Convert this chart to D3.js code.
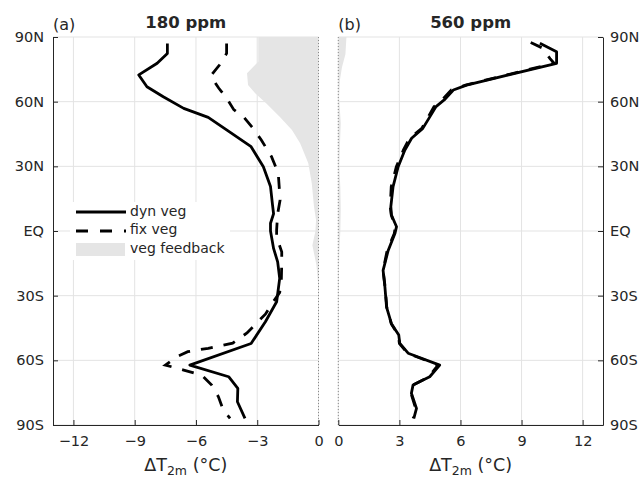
<!DOCTYPE html>
<html><head><meta charset="utf-8">
<script src="https://cdn.jsdelivr.net/npm/d3@7"></script>
<style>body{margin:0;background:#fff} text{font-family:"DejaVu Sans",sans-serif;fill:#262626}</style>
</head><body><svg id="c" width="640" height="478"></svg>
<script>
const latTicks = [90, 60, 30, 0, -30, -60, -90];
const latTickLabels = ["90N", "60N", "30N", "EQ", "30S", "60S", "90S"];
const xTicksA = [-12, -9, -6, -3, 0];
const xTicksB = [0, 3, 6, 9, 12];
const titles = ["180 ppm", "560 ppm"];
const panelLabels = ["(a)", "(b)"];
const legendLabels = ["dyn veg", "fix veg", "veg feedback"];

// [latitude, ΔT2m]
const dynA = [[87,-7.4],[82.4,-7.4],[77.8,-7.9],[72.4,-8.8],[66.9,-8.4],[62.3,-7.6],[56.9,-6.6],[52.7,-5.4],[46.9,-4.5],[39.1,-3.3],[29.8,-2.7],[20.6,-2.35],[12,-2.25],[8,-2.2],[3.6,-2.35],[0,-2.35],[-8.1,-2.2],[-14.3,-2.0],[-22,-1.9],[-32.8,-2.05],[-42.1,-2.6],[-52.2,-3.3],[-62.2,-6.3],[-67.6,-4.4],[-73,-3.95],[-79.2,-3.97],[-86.9,-3.6]];
const fixA = [[87,-4.5],[82.4,-4.5],[77,-4.85],[71.9,-5.28],[66.2,-4.88],[61.6,-4.5],[56.3,-4.15],[52.7,-3.65],[47.6,-3.2],[42.2,-2.8],[34.5,-2.3],[26.8,-1.97],[14.4,-1.88],[8,-2.0],[0.5,-2.05],[-2.8,-2.05],[-9.7,-1.8],[-15,-1.8],[-22.8,-1.82],[-28.5,-1.9],[-34,-2.3],[-38.6,-2.6],[-43.4,-3.1],[-47.3,-3.5],[-52,-4.2],[-54.4,-5.4],[-56,-6.4],[-58.3,-6.94],[-62.2,-7.5],[-64.5,-6.6],[-66.8,-5.72],[-71.5,-5.23],[-76.9,-4.9],[-83.1,-4.66],[-86.9,-4.33]];
const vegA = [[90,-2.95],[78.5,-2.95],[73.2,-3.5],[67.7,-3.45],[63.9,-3.1],[59.2,-2.55],[53,-1.9],[46.9,-1.3],[40.7,-0.9],[31.4,-0.5],[22.1,-0.33],[11.3,-0.22],[5.1,-0.12],[0,-0.15],[-6.6,-0.3],[-15.9,-0.1],[-26.6,0],[-90,0]];

const dynB = [[87.1,9.9],[83.2,10.72],[77.8,10.72],[67.7,6.3],[65.4,5.65],[60.8,5.2],[57.7,4.8],[47.6,4.15],[43,3.6],[37.6,3.27],[29.8,2.94],[20.6,2.69],[11.3,2.58],[7.4,2.61],[2,2.86],[-1.2,2.78],[-9,2.45],[-18.3,2.2],[-26,2.29],[-35.3,2.37],[-43,2.61],[-48.3,2.97],[-52.1,3.02],[-56.7,3.43],[-62.2,4.98],[-67.6,4.49],[-71.5,3.67],[-75.3,3.59],[-82.3,3.84],[-86.9,3.71]];
const fixB = [[87.4,9.45],[85,10.0],[80,10.4],[77.8,10.6],[67.7,6.25],[65.4,5.55],[60.8,5.1],[57.7,4.7],[47.6,4.1],[43,3.5],[37.6,3.2],[29.8,2.85],[20.6,2.6],[11.3,2.55],[7.4,2.6],[2,2.8],[-1.2,2.75],[-9,2.4],[-18.3,2.2],[-26,2.3],[-35.3,2.38],[-43,2.6],[-48.3,2.95],[-52.1,3.0],[-56.7,3.4],[-62.2,4.9],[-67.6,4.45],[-71.5,3.65],[-75.3,3.57],[-82.3,3.8],[-86.9,3.68]];
const vegB = [[90,0.4],[82,0.35],[76,0.18],[70,0.08],[62,0.04],[50,0.12],[40,0.08],[30,0.05],[20,0.1],[10,0.12],[0,0.1],[-10,0.05],[-20,0.03],[-30,0.02],[-40,0],[-90,0]];

const svg = d3.select("#c");
const plotTop = 37, plotBottom = 425;
const y = d3.scaleLinear().domain([90, -90]).range([plotTop, plotBottom]);
const AX = "#262626", GRID = "#e3e3e3", SHADE = "#e5e5e5";

function panel(o) {
  const x = d3.scaleLinear().domain(o.domain).range(o.range);
  const g = svg.append("g");
  const id = "clip" + o.idx;
  svg.append("clipPath").attr("id", id).append("rect")
    .attr("x", o.range[0]).attr("y", plotTop).attr("width", o.range[1] - o.range[0]).attr("height", plotBottom - plotTop);
  // grid
  g.selectAll(".gx").data(o.xticks).join("line")
    .attr("x1", d => x(d)).attr("x2", d => x(d)).attr("y1", plotTop).attr("y2", plotBottom)
    .attr("stroke", GRID).attr("stroke-width", 1);
  g.selectAll(".gy").data(latTicks).join("line")
    .attr("x1", o.range[0]).attr("x2", o.range[1]).attr("y1", d => y(d)).attr("y2", d => y(d))
    .attr("stroke", GRID).attr("stroke-width", 1);
  const plot = g.append("g").attr("clip-path", `url(#${id})`);
  // shading
  plot.append("path").datum(o.veg)
    .attr("d", d3.area().y(d => y(d[0])).x0(x(0)).x1(d => x(d[1])))
    .attr("fill", SHADE);
  // zero dotted line
  g.append("line").attr("x1", x(0)).attr("x2", x(0)).attr("y1", plotTop).attr("y2", plotBottom)
    .attr("stroke", "#8a8a8a").attr("stroke-width", 1).attr("stroke-dasharray", "1,2");
  const line = d3.line().x(d => x(d[1])).y(d => y(d[0]));
  plot.append("path").datum(o.fix).attr("d", line).attr("fill", "none")
    .attr("stroke", "#000").attr("stroke-width", 2.8).attr("stroke-dasharray", "12,11");
  plot.append("path").datum(o.dyn).attr("d", line).attr("fill", "none")
    .attr("stroke", "#000").attr("stroke-width", 2.8).attr("stroke-linejoin", "round");
  // axes
  const yAxis = (o.side === "left" ? d3.axisLeft(y) : d3.axisRight(y))
    .tickValues(latTicks).tickFormat((d, i) => latTickLabels[i])
    .tickSizeInner(-5).tickSizeOuter(0).tickPadding(o.side === "left" ? 9 : 7);
  const ya = g.append("g").attr("transform", `translate(${o.side === "left" ? o.range[0] : o.range[1]},0)`).call(yAxis);
  const xAxis = d3.axisBottom(x).tickValues(o.xticks).tickSizeInner(-5).tickSizeOuter(0).tickPadding(11);
  const xa = g.append("g").attr("transform", `translate(0,${plotBottom})`).call(xAxis);
  [ya, xa].forEach(a => {
    a.attr("font-family", null).attr("font-size", null);
    a.selectAll("path,line").attr("stroke", AX);
    a.selectAll("text").attr("font-size", 14.5).attr("fill", AX);
  });
  const cx = (o.range[0] + o.range[1]) / 2;
  svg.append("text").attr("x", cx).attr("y", 28).attr("text-anchor", "middle")
    .attr("font-weight", "bold").attr("font-size", 16.5).text(o.title);
  svg.append("text").attr("x", o.range[0]).attr("y", 30).attr("font-size", 16).text(o.label);
  const t = svg.append("text").attr("x", cx).attr("y", 471).attr("text-anchor", "middle").attr("font-size", 17.5);
  t.append("tspan").text("ΔT");
  t.append("tspan").attr("font-size", 12.5).attr("dy", 4).text("2m");
  t.append("tspan").attr("dy", -4).text(" (°C)");
}

panel({idx: 0, domain: [-13, 0], range: [53, 318.5], xticks: xTicksA, side: "left",
  dyn: dynA, fix: fixA, veg: vegA, title: titles[0], label: panelLabels[0]});
panel({idx: 1, domain: [0, 13], range: [338.3, 603], xticks: xTicksB, side: "right",
  dyn: dynB, fix: fixB, veg: vegB, title: titles[1], label: panelLabels[1]});

// legend
const lg = svg.append("g");
lg.append("rect").attr("x", 70).attr("y", 202).attr("width", 160).attr("height", 58).attr("fill", "#fff");
lg.append("line").attr("x1", 76).attr("x2", 126).attr("y1", 212).attr("y2", 212)
  .attr("stroke", "#000").attr("stroke-width", 2.8);
lg.append("line").attr("x1", 76).attr("x2", 126).attr("y1", 231).attr("y2", 231)
  .attr("stroke", "#000").attr("stroke-width", 2.8).attr("stroke-dasharray", "12,12");
lg.append("rect").attr("x", 76).attr("y", 243).attr("width", 49).attr("height", 13).attr("fill", SHADE);
lg.selectAll(".lt").data(legendLabels).join("text")
  .attr("x", 130).attr("y", (d, i) => 216 + i * 18.3).attr("font-size", 14).text(d => d);
</script></body></html>
